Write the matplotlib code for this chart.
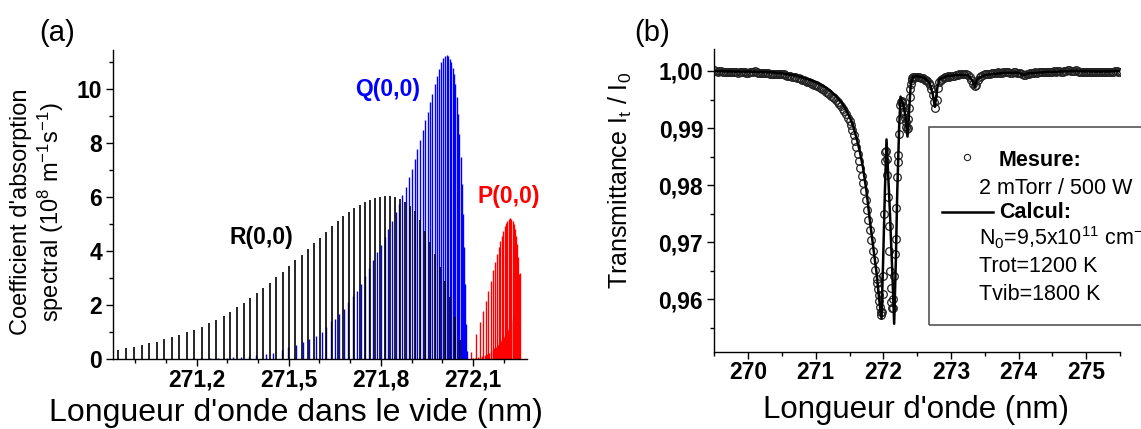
import matplotlib
matplotlib.use('Agg')
import matplotlib.pyplot as plt
from matplotlib.ticker import MultipleLocator
from matplotlib.patches import Rectangle
from matplotlib.lines import Line2D

plt.rcParams['font.family'] = ['Liberation Sans', 'DejaVu Sans']
plt.rcParams['mathtext.fontset'] = 'custom'
plt.rcParams['mathtext.rm'] = 'Liberation Sans'
plt.rcParams['mathtext.it'] = 'Liberation Sans:italic'
plt.rcParams['mathtext.bf'] = 'Liberation Sans:bold'

# ---- panel (a): stick spectrum (wavelength nm, 1e8 m-1 s-1) ----
r_wl = [270.945, 270.970, 270.995, 271.021, 271.046, 271.071, 271.095, 271.120,
        271.143, 271.168, 271.192, 271.217, 271.241, 271.265, 271.288, 271.309,
        271.331, 271.353, 271.374, 271.396, 271.418, 271.440, 271.460, 271.481,
        271.501, 271.522, 271.543, 271.563, 271.583, 271.602, 271.622, 271.641,
        271.660, 271.678, 271.696, 271.714, 271.731, 271.748, 271.764, 271.780,
        271.797, 271.813, 271.829, 271.845, 271.862, 271.878, 271.894, 271.910,
        271.927, 271.943, 271.959, 271.975, 271.992, 272.008, 272.024, 272.041,
        272.057]
r_h = [0.33, 0.40, 0.46, 0.51, 0.58, 0.64, 0.73, 0.80, 0.89, 0.99, 1.09, 1.20,
       1.32, 1.45, 1.60, 1.75, 1.91, 2.07, 2.25, 2.44, 2.62, 2.81, 3.03, 3.23,
       3.45, 3.65, 3.86, 4.08, 4.29, 4.50, 4.70, 4.91, 5.12, 5.30, 5.46, 5.60,
       5.72, 5.81, 5.90, 5.96, 6.02, 6.04, 6.04, 6.00, 5.92, 5.83, 5.68, 5.50,
       5.15, 4.76, 4.35, 3.89, 3.40, 2.90, 2.30, 1.55, 0.70]

q_wl = [271.010, 271.040, 271.070, 271.100, 271.130, 271.160, 271.190, 271.215,
        271.243, 271.270, 271.298, 271.319, 271.346, 271.370, 271.395, 271.425,
        271.449, 271.477, 271.498, 271.525, 271.547, 271.566, 271.588, 271.607,
        271.623, 271.639, 271.650, 271.664, 271.679, 271.693, 271.708, 271.721,
        271.735, 271.748, 271.762, 271.775, 271.788, 271.800, 271.813, 271.825,
        271.837, 271.849, 271.859, 271.870, 271.881, 271.891, 271.901, 271.910,
        271.919, 271.928, 271.936, 271.945, 271.953, 271.960, 271.968, 271.975,
        271.982, 271.988, 271.995, 272.002, 272.008, 272.014, 272.019, 272.024,
        272.030, 272.034, 272.038, 272.043, 272.047, 272.051, 272.056, 272.060,
        272.064, 272.068, 272.071, 272.074, 272.077, 272.080]
q_h = [0.01, 0.01, 0.01, 0.01, 0.015, 0.015, 0.02, 0.02,
       0.03, 0.04, 0.05, 0.06, 0.09, 0.11, 0.14, 0.19, 0.24, 0.33, 0.43, 0.52,
       0.64, 0.73, 0.85, 1.01, 1.20, 1.39,
       1.48, 1.67, 1.85, 2.10, 2.35, 2.53, 2.78, 3.09, 3.37, 3.65, 3.96, 4.24,
       4.51, 4.82, 5.10, 5.44, 5.75, 6.06, 6.37, 6.74, 7.05, 7.42, 7.79, 8.10,
       8.47, 8.84, 9.15, 9.52, 9.83, 10.2, 10.5, 10.75, 11.0,
       11.16, 11.24, 11.25, 11.21, 11.12, 11.0, 10.8, 10.57, 10.2, 9.7, 9.08,
       8.34, 7.48, 6.49, 5.38, 4.14, 2.78, 1.3, 0.3]

p_wl = [272.095, 272.109, 272.122, 272.133, 272.141, 272.150, 272.158, 272.165,
        272.172, 272.178, 272.184, 272.189, 272.194, 272.199, 272.203, 272.207,
        272.212, 272.216, 272.220, 272.225, 272.229, 272.233, 272.238, 272.241,
        272.245, 272.248, 272.251]
p_h = [0.25, 0.93, 1.36, 1.79, 2.16, 2.53, 2.90, 3.28, 3.58, 3.89, 4.14, 4.39,
       4.57, 4.76, 4.91, 5.03, 5.13, 5.19, 5.22, 5.19, 5.13, 5.00, 4.82, 4.57,
       4.26, 3.77, 3.15]

# dense low-lying P lines (solid red wedge)
p2_wl = [272.100, 272.108, 272.116, 272.124, 272.131, 272.138, 272.145, 272.152,
         272.158, 272.164, 272.170, 272.176, 272.181, 272.186, 272.191, 272.196,
         272.201, 272.205, 272.209, 272.213, 272.217, 272.221, 272.225, 272.229,
         272.233, 272.237, 272.241, 272.245, 272.249, 272.253]
p2_h = [0.03, 0.05, 0.07, 0.09, 0.12, 0.15, 0.19, 0.23, 0.28, 0.33, 0.39, 0.45,
        0.52, 0.59, 0.66, 0.74, 0.82, 0.90, 0.98, 1.07, 1.16, 1.26, 1.37, 1.50,
        1.65, 1.85, 2.10, 2.40, 2.80, 3.20]

a_xticks = [271.2, 271.5, 271.8, 272.1]
a_yticks = [0, 2, 4, 6, 8, 10]

# ---- panel (b): transmittance ----
meas_wl = [
    269.500, 269.525, 269.550, 269.575, 269.600, 269.625, 269.650, 269.675, 269.700, 269.725,
    269.750, 269.775, 269.800, 269.825, 269.850, 269.875, 269.900, 269.925, 269.950, 269.975,
    270.000, 270.025, 270.050, 270.075, 270.100, 270.125, 270.150, 270.175, 270.200, 270.225,
    270.250, 270.275, 270.300, 270.325, 270.350, 270.375, 270.400, 270.425, 270.450, 270.475,
    270.500, 270.525, 270.550, 270.575, 270.600, 270.625, 270.650, 270.675, 270.700, 270.725,
    270.750, 270.775, 270.800, 270.825, 270.850, 270.875, 270.900, 270.925, 270.950, 270.975,
    271.000, 271.025, 271.050, 271.075, 271.100, 271.125, 271.150, 271.175, 271.200, 271.225,
    271.250, 271.275, 271.300, 271.325, 271.350, 271.375, 271.400, 271.425, 271.450, 271.475,
    271.500,
    271.52, 271.54, 271.56, 271.58, 271.60, 271.62, 271.64, 271.66, 271.68, 271.70,
    271.72, 271.74, 271.76, 271.78, 271.80, 271.82, 271.84, 271.86, 271.88, 271.90,
    271.91, 271.92, 271.93, 271.94, 271.95, 271.96, 271.97, 271.98, 271.99, 272.00,
    272.01, 272.02, 272.03, 272.04, 272.05, 272.06, 272.07, 272.08, 272.09, 272.10,
    272.11, 272.12, 272.13, 272.14, 272.15, 272.16, 272.17, 272.18, 272.19, 272.20,
    272.21, 272.22, 272.23, 272.24, 272.25, 272.26, 272.27, 272.28, 272.29, 272.30,
    272.31, 272.32, 272.33, 272.34, 272.35, 272.36, 272.37, 272.38, 272.39, 272.40,
    272.41, 272.42, 272.43, 272.44, 272.45,
    272.47, 272.49, 272.51, 272.53, 272.55, 272.57, 272.59, 272.61, 272.63, 272.65,
    272.67, 272.69, 272.71, 272.73, 272.75, 272.77, 272.79, 272.81, 272.83, 272.85,
    272.87, 272.89, 272.91, 272.93, 272.95, 272.97, 272.99,
    273.025, 273.050, 273.075, 273.100, 273.125, 273.150, 273.175, 273.200, 273.225, 273.250,
    273.275, 273.300, 273.325, 273.350, 273.375, 273.400, 273.425, 273.450, 273.475, 273.500,
    273.525, 273.550, 273.575, 273.600, 273.625, 273.650, 273.675, 273.700, 273.725, 273.750,
    273.775, 273.800, 273.825, 273.850, 273.875, 273.900, 273.925, 273.950, 273.975, 274.000,
    274.025, 274.050, 274.075, 274.100, 274.125, 274.150, 274.175, 274.200, 274.225, 274.250,
    274.275, 274.300, 274.325, 274.350, 274.375, 274.400, 274.425, 274.450, 274.475, 274.500,
    274.525, 274.550, 274.575, 274.600, 274.625, 274.650, 274.675, 274.700, 274.725, 274.750,
    274.775, 274.800, 274.825, 274.850, 274.875, 274.900, 274.925, 274.950, 274.975, 275.000,
    275.025, 275.050, 275.075, 275.100, 275.125, 275.150, 275.175, 275.200, 275.225, 275.250,
    275.275, 275.300, 275.325, 275.350, 275.375, 275.400, 275.425, 275.450, 275.475, 275.500]
meas_t = [
    1.0001, 1.0000, 0.9999, 1.0000, 1.0000, 0.9999, 0.9998, 0.9999, 0.9999, 0.9998,
    0.9998, 0.9999, 0.9999, 0.9998, 0.9997, 0.9998, 0.9998, 0.9999, 0.9998, 0.9997,
    0.9997, 0.9998, 0.9998, 0.9999, 1.0000, 0.9998, 0.9997, 0.9997, 0.9997, 0.9996,
    0.9996, 0.9997, 0.9996, 0.9995, 0.9995, 0.9995, 0.9995, 0.9994, 0.9994, 0.9995,
    0.9995, 0.9994, 0.9993, 0.9992, 0.9992, 0.9991, 0.9990, 0.9990, 0.9989, 0.9988,
    0.9987, 0.9986, 0.9985, 0.9984, 0.9983, 0.9981, 0.9980, 0.9979, 0.9977, 0.9976,
    0.9975, 0.9973, 0.9972, 0.9970, 0.9968, 0.9966, 0.9964, 0.9962, 0.9960, 0.9957,
    0.9955, 0.9952, 0.9949, 0.9946, 0.9942, 0.9938, 0.9934, 0.9929, 0.9924, 0.9918,
    0.9912,
    0.9905, 0.9897, 0.9888, 0.9878, 0.9867, 0.9855, 0.9843, 0.9830, 0.9816, 0.9803,
    0.9790, 0.9774, 0.9757, 0.9739, 0.9721, 0.9703, 0.9685, 0.9668, 0.9651, 0.9636,
    0.9628, 0.9618, 0.9607, 0.9597, 0.9587, 0.9578, 0.9573, 0.9578, 0.9610, 0.9640,
    0.9750, 0.9842, 0.9858, 0.9860, 0.9845, 0.9818, 0.9780, 0.9728, 0.9685, 0.9650,
    0.9620, 0.9595, 0.9585, 0.9584, 0.9600, 0.9640, 0.9680, 0.9705, 0.9760, 0.9815,
    0.9840, 0.9853, 0.9890, 0.9915, 0.9940, 0.9945, 0.9948, 0.9945, 0.9938, 0.9930,
    0.9925, 0.9918, 0.9910, 0.9902, 0.9898, 0.9900, 0.9915, 0.9935, 0.9955, 0.9968,
    0.9978, 0.9985, 0.9988, 0.9990, 0.9990,
    0.9990, 0.9989, 0.9990, 0.9989, 0.9988, 0.9987, 0.9987, 0.9985, 0.9984, 0.9982,
    0.9979, 0.9975, 0.9968, 0.9958, 0.9945, 0.9935, 0.9950, 0.9970, 0.9980, 0.9984,
    0.9986, 0.9988, 0.9989, 0.9990, 0.9991, 0.9990, 0.9992,
    0.9991, 0.9992, 0.9993, 0.9993, 0.9994, 0.9994, 0.9995, 0.9995, 0.9994, 0.9993,
    0.9990, 0.9985, 0.9978, 0.9973, 0.9976, 0.9985, 0.9990, 0.9992, 0.9993, 0.9994,
    0.9994, 0.9995, 0.9995, 0.9996, 0.9996, 0.9997, 0.9997, 0.9998, 0.9997, 0.9997,
    0.9998, 0.9998, 0.9999, 0.9998, 0.9997, 0.9997, 0.9998, 0.9998, 0.9997, 0.9997,
    0.9996, 0.9995, 0.9993, 0.9993, 0.9994, 0.9995, 0.9996, 0.9997, 0.9997, 0.9998,
    0.9997, 0.9998, 0.9998, 0.9999, 0.9998, 0.9999, 0.9999, 0.9998, 0.9999, 0.9999,
    1.0000, 0.9999, 1.0000, 1.0000, 0.9999, 0.9999, 1.0000, 1.0000, 1.0001, 1.0001,
    1.0000, 1.0000, 1.0000, 1.0001, 1.0000, 0.9999, 0.9998, 0.9998, 0.9999, 0.9999,
    0.9998, 0.9998, 0.9999, 0.9999, 0.9998, 0.9998, 0.9999, 0.9999, 0.9998, 0.9998,
    0.9999, 0.9999, 0.9998, 0.9998, 0.9999, 0.9999, 1.0000, 1.0000, 0.9999, 0.9999]

calc_wl = [269.50, 269.80, 270.00, 270.30, 270.50, 270.70, 270.90, 271.00, 271.10, 271.20,
           271.30, 271.40, 271.50, 271.55, 271.60, 271.65, 271.70, 271.75, 271.80, 271.85,
           271.90, 271.94, 271.973, 271.997, 272.022, 272.047, 272.096, 272.135, 272.160,
           272.185, 272.205, 272.234, 272.254, 272.293, 272.328, 272.357, 272.382, 272.406,
           272.441, 272.50, 272.60, 272.68, 272.73, 272.762, 272.80, 272.835, 272.95, 273.10,
           273.25, 273.32, 273.353, 273.39, 273.50, 273.80, 274.00, 274.08, 274.15, 274.40,
           274.80, 275.20, 275.50]
calc_t = [1.0000, 0.9999, 0.9999, 0.9998, 0.9996, 0.9992, 0.9985, 0.9981, 0.9975, 0.9967,
          0.9956, 0.9942, 0.9920, 0.9905, 0.9884, 0.9860, 0.9830, 0.9790, 0.9739, 0.9692,
          0.9646, 0.9598, 0.9566, 0.9668, 0.9785, 0.9880, 0.9756, 0.9639, 0.9557,
          0.9668, 0.9785, 0.9902, 0.9955, 0.9943, 0.9920, 0.9885, 0.9932, 0.9978,
          0.9990, 0.9991, 0.9988, 0.9980, 0.9960, 0.9937, 0.9972, 0.9986, 0.9991, 0.9993,
          0.9993, 0.9983, 0.9972, 0.9986, 0.9993, 0.9997, 0.9997, 0.9993, 0.9996, 0.9998,
          1.0000, 0.9999, 1.0000]

b_xticks = [270, 271, 272, 273, 274, 275]
b_yticks = [0.96, 0.97, 0.98, 0.99, 1.00]

W, H = 1141, 429
fig = plt.figure(figsize=(W / 100, H / 100), dpi=100)


def fx(px):
    return px / W


def fy(py):
    return 1 - py / H


def style(ax):
    for s in ['top', 'right']:
        ax.spines[s].set_visible(False)
    for s in ['left', 'bottom']:
        ax.spines[s].set_linewidth(1.0)
    ax.tick_params(which='major', length=5, width=1, direction='out')
    ax.tick_params(which='minor', length=3, width=1, direction='out')
    ax.tick_params(axis='x', pad=2)
    ax.tick_params(axis='y', pad=3)


ax1 = fig.add_axes([fx(113.3), fy(359), (527 - 113.3) / W, (359 - 50) / H])
ax2 = fig.add_axes([fx(714.3), fy(351.7), (1120 - 714.3) / W, (351.7 - 49.3) / H])

# panel (a)
ax1.vlines(q_wl, 0, q_h, color='#0000ff', lw=1.0)
ax1.vlines(r_wl, 0, r_h, color='black', lw=1.2)
ax1.vlines(p2_wl, 0, p2_h, color='#ff0000', lw=1.0)
ax1.vlines(p_wl, 0, p_h, color='#ff0000', lw=1.0)
ax1.set_xlim(270.929, 272.276)
ax1.set_ylim(0, 11.45)
style(ax1)
ax1.set_xticks(a_xticks, [f'{v:.1f}'.replace('.', ',') for v in a_xticks],
               fontweight='bold', fontsize=16.5)
ax1.set_yticks(a_yticks, [f'{v:d}' for v in a_yticks], fontweight='bold', fontsize=16.5)
ax1.xaxis.set_minor_locator(MultipleLocator(0.1))
ax1.yaxis.set_minor_locator(MultipleLocator(1))
ax1.text(271.412, 4.49, 'R(0,0)', fontweight='bold', fontsize=16.5, ha='center', va='center')
ax1.text(271.822, 9.97, 'Q(0,0)', fontweight='bold', fontsize=16.5, ha='center', va='center',
         color='#0000ff')
ax1.text(272.218, 6.02, 'P(0,0)', fontweight='bold', fontsize=16.5, ha='center', va='center',
         color='#ff0000')

# panel (b)
ax2.plot(meas_wl, meas_t, 'o', mfc='none', mec='#222222', ms=5.5, mew=0.9, zorder=2)
ax2.plot(calc_wl, calc_t, '-', color='black', lw=1.8, zorder=3)
ax2.set_xlim(269.5, 275.5)
ax2.set_ylim(0.9508, 1.0038)
style(ax2)
ax2.set_xticks(b_xticks, [str(v) for v in b_xticks], fontweight='bold', fontsize=16.5)
ax2.set_yticks(b_yticks, [f'{v:.2f}'.replace('.', ',') for v in b_yticks],
               fontweight='bold', fontsize=16.5)
ax2.xaxis.set_minor_locator(MultipleLocator(0.5))
ax2.yaxis.set_minor_locator(MultipleLocator(0.005))

# axis labels and panel letters
fig.text(fx(296), fy(413), "Longueur d'onde dans le vide (nm)", fontsize=23,
         ha='center', va='center')
fig.text(fx(916), fy(410), "Longueur d'onde (nm)", fontsize=22.5, ha='center', va='center')
fig.text(fx(38), fy(212), "Coefficient d'absorption\nspectral (10$^{8}$ m$^{-1}$s$^{-1}$)",
         rotation=90, fontsize=17, ha='center', va='center', multialignment='center')
fig.text(fx(620), fy(180), "Transmittance I$_\\mathrm{t}$ / I$_0$", rotation=90,
         fontsize=18, ha='center', va='center')
fig.text(fx(57), fy(33), '(a)', fontsize=21, ha='center', va='center')
fig.text(fx(652), fy(33), '(b)', fontsize=21, ha='center', va='center')

# legend box of panel (b), running past the right edge as in the original
fig.add_artist(Rectangle((fx(929), fy(325)), fx(1200) - fx(929), fy(126.7) - fy(325),
                         transform=fig.transFigure, fill=False, ec='#555555', lw=1.2))
fig.add_artist(Line2D([fx(966.7)], [fy(157.3)], transform=fig.transFigure, marker='o',
                      mfc='none', mec='#222222', ms=4.5, mew=0.8))
fig.add_artist(Line2D([fx(941.7), fx(993.3)], [fy(211.7), fy(211.7)],
                      transform=fig.transFigure, color='black', lw=1.8))
fig.text(fx(999), fy(166), 'Mesure:', fontsize=15.5, fontweight='bold', va='baseline')
fig.text(fx(979), fy(193.5), '2 mTorr / 500 W', fontsize=15.5, va='baseline')
fig.text(fx(999), fy(218.5), 'Calcul:', fontsize=15.5, fontweight='bold', va='baseline')
fig.text(fx(979), fy(245), 'N$_0$=9,5x10$^{11}$ cm$^{-3}$', fontsize=15.5, va='baseline')
fig.text(fx(979), fy(272), 'Trot=1200 K', fontsize=15.5, va='baseline')
fig.text(fx(979), fy(300), 'Tvib=1800 K', fontsize=15.5, va='baseline')

fig.savefig('out.png', dpi=100)
